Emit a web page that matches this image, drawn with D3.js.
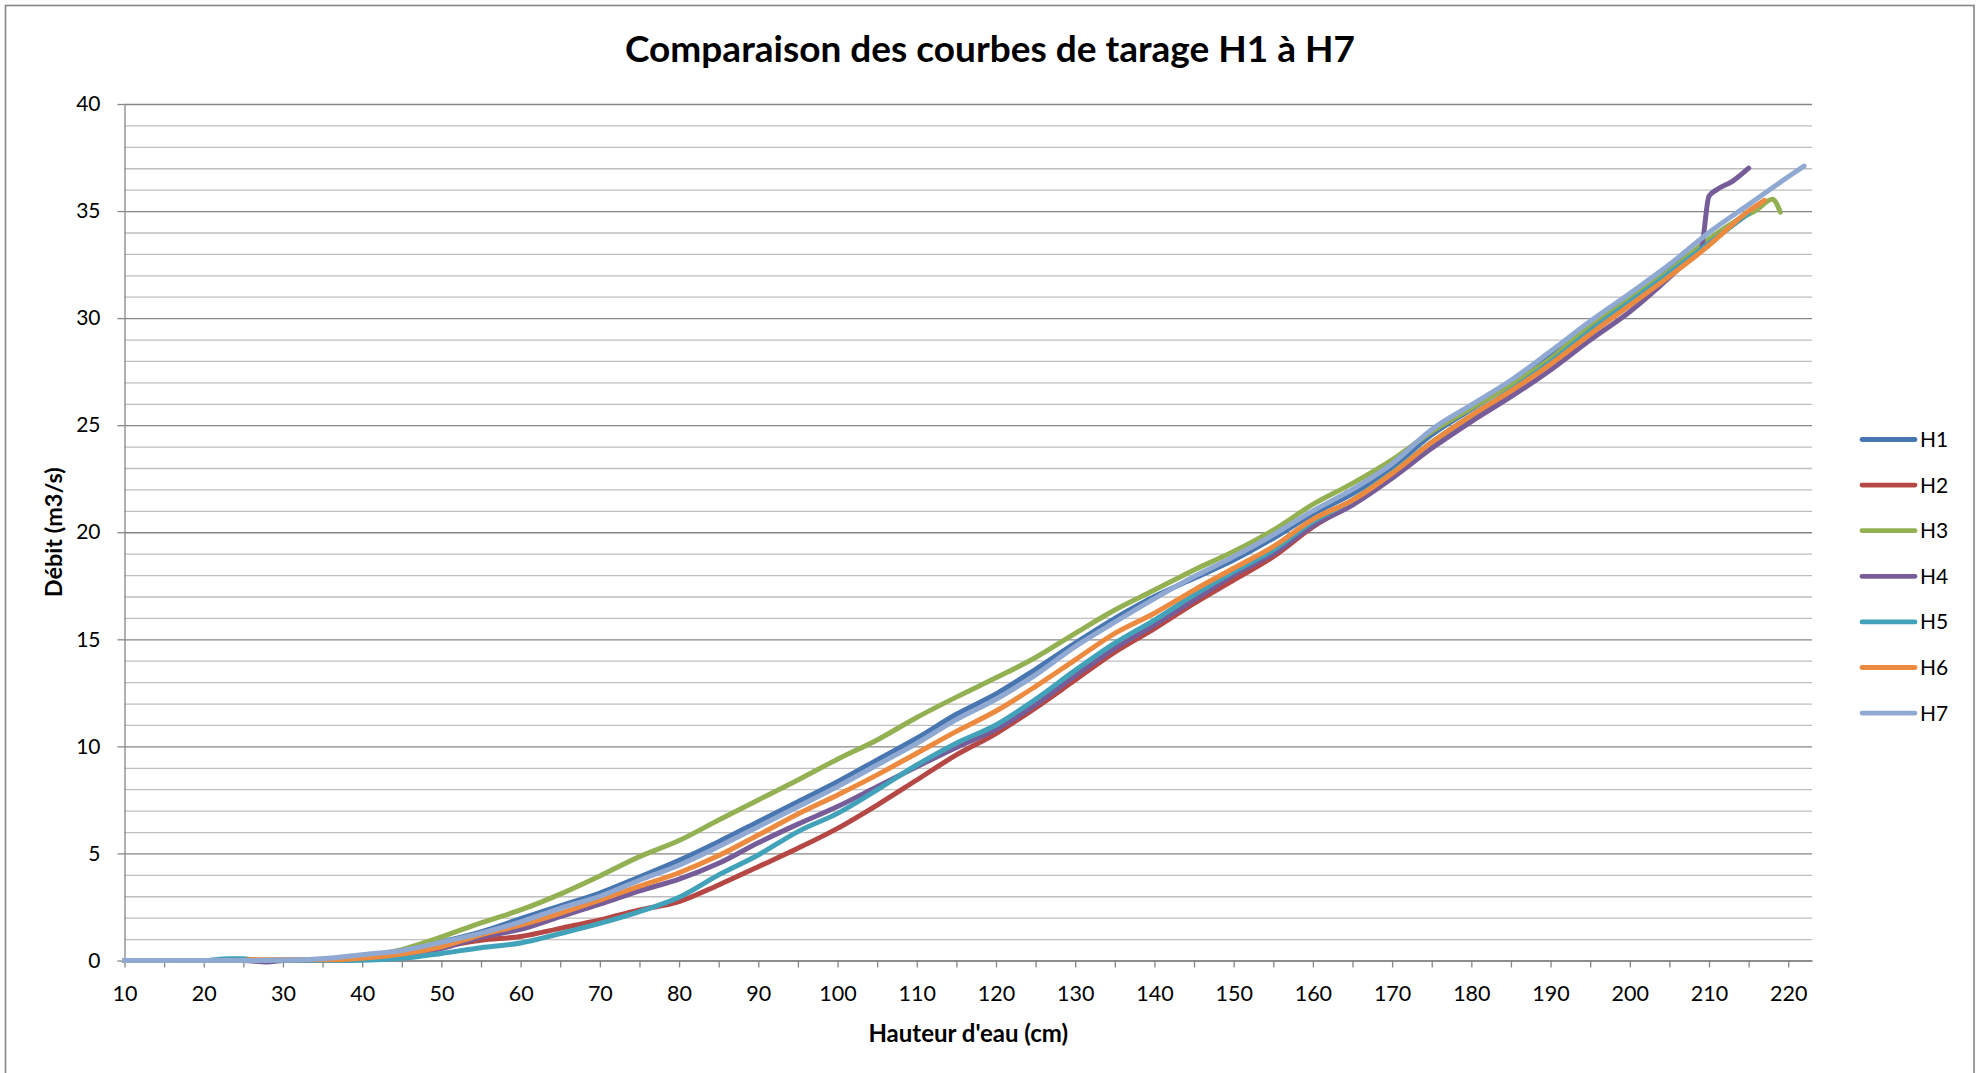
<!DOCTYPE html>
<html>
<head>
<meta charset="utf-8">
<script src="https://cdn.jsdelivr.net/npm/d3@7"></script>
<style>
  html, body { margin: 0; padding: 0; background: #fff; }
  svg { display: block; font-family: Lato, "Open Sans", sans-serif; }
</style>
</head>
<body>
<svg id="chart" width="1977" height="1073"></svg>
<script>
"use strict";

// series names / colours (Excel default palette)
var seriesNames = ["H1", "H2", "H3", "H4", "H5", "H6", "H7"];
var seriesColors = ["#4776B0", "#B54845", "#93B153", "#765C99", "#42A2BA", "#EC8B40", "#8FA9D3"];

// [hauteur (cm), débit (m3/s)]
var h1 = [[10,0],[15,0],[20,0],[25,0],[30,0.02],[35,0.06],[40,0.2],[45,0.45],[50,0.87],[55,1.34],[60,1.95],[65,2.55],[70,3.15],[75,3.9],[80,4.68],[85,5.55],[90,6.48],[95,7.42],[100,8.35],[105,9.37],[110,10.38],[115,11.5],[120,12.45],[125,13.6],[130,14.82],[135,15.98],[140,17.0],[145,17.85],[150,18.7],[155,19.72],[160,20.85],[165,21.8],[170,23.05],[175,24.55],[180,25.75],[185,26.95],[190,28.25],[195,29.65],[200,30.95],[205,32.3],[210,33.6],[215,34.95],[216,35.2]];
var h2 = [[10,0],[15,0],[20,0],[25,0],[30,0],[35,0.02],[40,0.06],[45,0.3],[50,0.64],[55,0.95],[60,1.12],[65,1.5],[70,1.89],[75,2.36],[80,2.75],[85,3.53],[90,4.38],[95,5.24],[100,6.17],[105,7.26],[110,8.43],[115,9.6],[120,10.6],[125,11.8],[130,13.1],[135,14.4],[140,15.5],[145,16.68],[150,17.77],[155,18.86],[160,20.25],[165,21.35],[170,22.65],[175,24.1],[180,25.4],[185,26.6],[190,27.9],[195,29.4],[200,30.75],[205,32.1],[210,33.5],[215,34.9],[216,35.15]];
var h3 = [[10,0],[15,0],[20,0],[25,0],[30,0.02],[35,0.06],[40,0.17],[45,0.51],[50,1.1],[55,1.76],[60,2.36],[65,3.1],[70,3.95],[75,4.85],[80,5.6],[85,6.56],[90,7.5],[95,8.43],[100,9.4],[105,10.3],[110,11.35],[115,12.3],[120,13.2],[125,14.15],[130,15.28],[135,16.37],[140,17.3],[145,18.24],[150,19.1],[155,20.1],[160,21.3],[165,22.28],[170,23.38],[175,24.7],[180,25.8],[185,26.9],[190,28.1],[195,29.7],[200,30.95],[205,32.2],[210,33.7],[213,34.45],[216,35.05],[218,35.55],[219,34.95]];
var h4 = [[10,0],[15,0],[20,0],[25,0],[28,-0.07],[30,0],[35,0.02],[40,0.05],[45,0.25],[50,0.56],[55,1.1],[60,1.45],[65,2.05],[70,2.63],[75,3.25],[80,3.8],[85,4.54],[90,5.5],[95,6.37],[100,7.19],[105,8.12],[110,9.05],[115,9.95],[120,10.8],[125,11.95],[130,13.3],[135,14.58],[140,15.67],[145,16.84],[150,18.0],[155,19.0],[160,20.3],[165,21.27],[170,22.52],[175,23.92],[180,25.17],[185,26.33],[190,27.58],[195,28.98],[200,30.3],[205,31.9],[207,32.6],[209,33.2],[210,35.7],[211,36.0],[213,36.4],[215,37.0]];
var h5 = [[10,0],[15,0],[20,0],[23,0.08],[25,0.08],[27,0],[30,0],[35,0],[40,0.01],[45,0.1],[50,0.33],[55,0.6],[60,0.82],[65,1.26],[70,1.73],[75,2.28],[80,2.95],[85,4.0],[90,4.93],[95,6.02],[100,6.87],[105,7.97],[110,9.13],[115,10.15],[120,11.0],[125,12.2],[130,13.55],[135,14.82],[140,15.9],[145,17.07],[150,18.16],[155,19.17],[160,20.5],[165,21.5],[170,22.8],[175,24.2],[180,25.45],[185,26.65],[190,27.95],[195,29.4],[200,30.75],[205,32.1],[210,33.5],[215,34.9]];
var h6 = [[10,0],[15,0],[20,0],[25,0],[26,0.05],[28,0.03],[30,0.03],[35,0.03],[40,0.1],[45,0.3],[50,0.64],[55,1.2],[60,1.65],[65,2.2],[70,2.82],[75,3.47],[80,4.1],[85,4.9],[90,5.86],[95,6.84],[100,7.73],[105,8.67],[110,9.68],[115,10.7],[120,11.65],[125,12.8],[130,14.04],[135,15.28],[140,16.22],[145,17.3],[150,18.32],[155,19.33],[160,20.6],[165,21.5],[170,22.75],[175,24.2],[180,25.45],[185,26.6],[190,27.85],[195,29.25],[200,30.6],[205,31.95],[210,33.4],[215,35.0],[217,35.5]];
var h7 = [[10,0],[15,0],[20,0],[25,0],[30,0.02],[35,0.08],[40,0.27],[45,0.47],[50,0.85],[55,1.28],[60,1.8],[65,2.44],[70,3.0],[75,3.75],[80,4.45],[85,5.32],[90,6.25],[95,7.18],[100,8.12],[105,9.13],[110,10.14],[115,11.25],[120,12.2],[125,13.34],[130,14.66],[135,15.8],[140,16.9],[145,17.93],[150,18.86],[155,19.88],[160,21.0],[165,22.0],[170,23.2],[175,24.8],[180,25.95],[185,27.1],[190,28.45],[195,29.85],[200,31.15],[205,32.5],[210,34.0],[215,35.3],[220,36.6],[222,37.1]];

var yTicks = [0, 5, 10, 15, 20, 25, 30, 35, 40];
var xTicks = [10, 15, 20, 25, 30, 35, 40, 45, 50, 55, 60, 65, 70, 75, 80, 85, 90, 95, 100, 105, 110, 115, 120, 125, 130, 135, 140, 145, 150, 155, 160, 165, 170, 175, 180, 185, 190, 195, 200, 205, 210, 215, 220];

var chartTitle = "Comparaison des courbes de tarage H1 à H7";
var xTitle = "Hauteur d'eau (cm)";
var yTitle = "Débit (m3/s)";

var allSeries = [h1, h2, h3, h4, h5, h6, h7];

var svg = d3.select("#chart");
var plot = { left: 124.5, right: 1812, top: 104, bottom: 960.5 };
var axisColor = "#868686";

var x = d3.scaleLinear().domain([10, 223]).range([plot.left, plot.right]);
var y = d3.scaleLinear().domain([0, 40]).range([plot.bottom, plot.top]);

// chart frame
svg.append("rect")
  .attr("x", 5.5)
  .attr("y", 5.5)
  .attr("width", 1968.5)
  .attr("height", 1200)
  .attr("fill", "none")
  .attr("stroke", axisColor)
  .attr("stroke-width", 1.6);

// minor grid (every 1)
var minor = d3.range(0, 41).filter(function (v) { return v % 5 !== 0; });
svg.append("g")
  .attr("transform", "translate(" + plot.left + ",0)")
  .call(d3.axisLeft(y).tickValues(minor).tickSize(-(plot.right - plot.left)).tickFormat(""))
  .call(function (g) {
    g.select(".domain").remove();
    g.selectAll("line").attr("stroke", "#BEBEBE").attr("stroke-width", 1.3);
  });

// major grid (every 5)
svg.append("g")
  .attr("transform", "translate(" + plot.left + ",0)")
  .call(d3.axisLeft(y).tickValues(yTicks).tickSize(-(plot.right - plot.left)).tickFormat(""))
  .call(function (g) {
    g.select(".domain").remove();
    g.selectAll("line").attr("stroke", axisColor).attr("stroke-width", 1.3);
  });

// y axis
svg.append("g")
  .attr("transform", "translate(" + plot.left + ",0)")
  .call(d3.axisLeft(y).tickValues(yTicks).tickSize(7).tickSizeOuter(0).tickPadding(17))
  .call(function (g) {
    g.select(".domain").attr("stroke", axisColor).attr("stroke-width", 1.3);
    g.selectAll("line").attr("stroke", axisColor).attr("stroke-width", 1.3);
    g.selectAll("text")
      .attr("fill", "#000")
      .style("font-size", "21px")
      .style("font-family", "Lato, 'Open Sans', sans-serif");
  });

// x axis
svg.append("g")
  .attr("transform", "translate(0," + plot.bottom + ")")
  .call(d3.axisBottom(x).tickValues(xTicks).tickSize(7).tickSizeOuter(0).tickPadding(18)
    .tickFormat(function (d) { return d % 10 === 0 ? d : ""; }))
  .call(function (g) {
    g.select(".domain").attr("stroke", axisColor).attr("stroke-width", 1.3);
    g.selectAll("line").attr("stroke", axisColor).attr("stroke-width", 1.3);
    g.selectAll("text")
      .attr("fill", "#000")
      .style("font-size", "21.5px")
      .style("font-family", "Lato, 'Open Sans', sans-serif");
  });

// courbes
var line = d3.line()
  .x(function (d) { return x(d[0]); })
  .y(function (d) { return y(d[1]); })
  .curve(d3.curveMonotoneX);

svg.append("g")
  .selectAll("path")
  .data(allSeries)
  .enter()
  .append("path")
  .attr("d", line)
  .attr("fill", "none")
  .attr("stroke", function (d, i) { return seriesColors[i]; })
  .attr("stroke-width", 5)
  .attr("stroke-linejoin", "round")
  .attr("stroke-linecap", "round");

// legend
var legend = svg.append("g")
  .selectAll("g")
  .data(seriesNames)
  .enter()
  .append("g")
  .attr("transform", function (d, i) { return "translate(1862," + (439.5 + i * 45.6) + ")"; });

legend.append("line")
  .attr("x1", 0)
  .attr("x2", 53)
  .attr("stroke", function (d, i) { return seriesColors[i]; })
  .attr("stroke-width", 4.8)
  .attr("stroke-linecap", "round");

legend.append("text")
  .attr("x", 58)
  .attr("dy", "0.36em")
  .style("font-size", "21px")
  .attr("fill", "#000")
  .text(function (d) { return d; });

// titles
svg.append("text")
  .attr("x", 990)
  .attr("y", 62)
  .attr("text-anchor", "middle")
  .style("font-size", "37px")
  .style("font-weight", "bold")
  .attr("fill", "#000")
  .text(chartTitle);

svg.append("text")
  .attr("x", (plot.left + plot.right) / 2)
  .attr("y", 1042)
  .attr("text-anchor", "middle")
  .style("font-size", "24px")
  .style("font-weight", "bold")
  .attr("fill", "#000")
  .text(xTitle);

svg.append("text")
  .attr("transform", "translate(62," + (plot.top + plot.bottom) / 2 + ") rotate(-90)")
  .attr("text-anchor", "middle")
  .style("font-size", "23.5px")
  .style("font-weight", "bold")
  .attr("fill", "#000")
  .text(yTitle);
</script>
</body>
</html>
